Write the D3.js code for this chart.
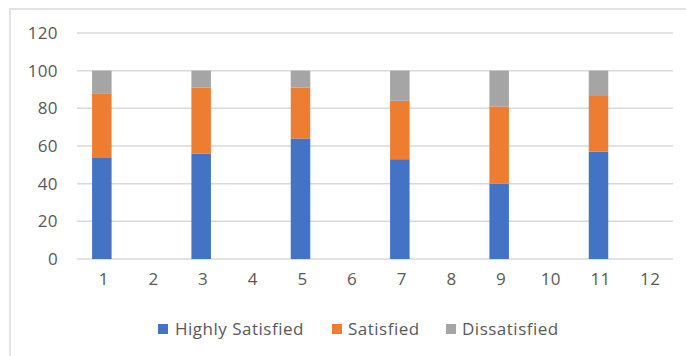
<!DOCTYPE html>
<html>
<head>
<meta charset="utf-8">
<script src="https://cdn.jsdelivr.net/npm/d3@7"></script>
<style>
  html, body { margin: 0; padding: 0; background: #fff; }
  svg { display: block; font-family: "Open Sans", "Liberation Sans", sans-serif; }
</style>
</head>
<body>
<svg id="chart" width="686" height="356"></svg>
<script>
// Survey responses per category (percent)
const categories = ["1","2","3","4","5","6","7","8","9","10","11","12"];
const highlySatisfied = [54, 0, 56, 0, 64, 0, 53, 0, 40, 0, 57, 0];
const satisfied       = [34, 0, 35, 0, 27, 0, 31, 0, 41, 0, 30, 0];
const dissatisfied    = [12, 0, 9, 0, 9, 0, 16, 0, 19, 0, 13, 0];
const seriesNames = ["Highly Satisfied", "Satisfied", "Dissatisfied"];
const yTicks = [0, 20, 40, 60, 80, 100, 120];

const colors = ["#4472C4", "#ED7D31", "#A5A5A5"];

const svg = d3.select("#chart");
const W = 686, H = 356;

// Outer chart frame
svg.append("rect")
  .attr("x", 10).attr("y", 9)
  .attr("width", W).attr("height", H)
  .attr("fill", "#fff")
  .attr("stroke", "#D9D9D9").attr("stroke-width", 1.5);

const plot = { left: 77, right: 673, top: 33, bottom: 259 };

const x = d3.scaleBand()
  .domain(categories)
  .range([plot.left, plot.right])
  .paddingInner(0.6).paddingOuter(0.3);

const y = d3.scaleLinear()
  .domain([0, 120])
  .range([plot.bottom, plot.top]);

// Horizontal gridlines
svg.append("g")
  .selectAll("line")
  .data(yTicks)
  .join("line")
  .attr("x1", plot.left).attr("x2", plot.right)
  .attr("y1", d => y(d)).attr("y2", d => y(d))
  .attr("stroke", "#D9D9D9").attr("stroke-width", 1.5);

// Y axis labels
const yAxis = d3.axisLeft(y).tickValues(yTicks).tickSize(0).tickPadding(0);
svg.append("g")
  .attr("transform", `translate(${plot.left - 19},0)`)
  .call(yAxis)
  .call(g => g.select(".domain").remove())
  .call(g => g.selectAll("text")
    .attr("fill", "#595959")
    .style("font-size", "17px")
    .style("letter-spacing", "0.4px")
    .style("font-family", "'Open Sans', sans-serif"));

// X axis labels
const xAxis = d3.axisBottom(x).tickSize(0).tickPadding(0);
svg.append("g")
  .attr("transform", `translate(2,${plot.bottom + 14})`)
  .call(xAxis)
  .call(g => g.select(".domain").remove())
  .call(g => g.selectAll("text")
    .attr("fill", "#595959")
    .style("font-size", "17px")
    .style("letter-spacing", "0.4px")
    .style("font-family", "'Open Sans', sans-serif"));

// Stacked bars
const rows = categories.map((c, i) => ({
  cat: c,
  "Highly Satisfied": highlySatisfied[i],
  "Satisfied": satisfied[i],
  "Dissatisfied": dissatisfied[i]
}));
const stacked = d3.stack().keys(seriesNames)(rows);

const bw = 19.5;
svg.append("g")
  .selectAll("g")
  .data(stacked)
  .join("g")
  .attr("fill", (d, i) => colors[i])
  .selectAll("rect")
  .data(d => d)
  .join("rect")
  .attr("x", d => x(d.data.cat) + x.bandwidth() / 2 - bw / 2)
  .attr("width", bw)
  .attr("y", d => y(d[1]))
  .attr("height", d => y(d[0]) - y(d[1]));

// Legend
const legendItems = [
  { name: seriesNames[0], sx: 158, tx: 175 },
  { name: seriesNames[1], sx: 332, tx: 348 },
  { name: seriesNames[2], sx: 446, tx: 462 }
];
const legend = svg.append("g");
legendItems.forEach((it, i) => {
  legend.append("rect")
    .attr("x", it.sx).attr("y", 324)
    .attr("width", 10).attr("height", 10)
    .attr("fill", colors[i]);
  legend.append("text")
    .attr("x", it.tx).attr("y", 335)
    .attr("fill", "#595959")
    .style("font-size", "17px")
    .style("letter-spacing", "0.5px")
    .text(it.name);
});
</script>
</body>
</html>
